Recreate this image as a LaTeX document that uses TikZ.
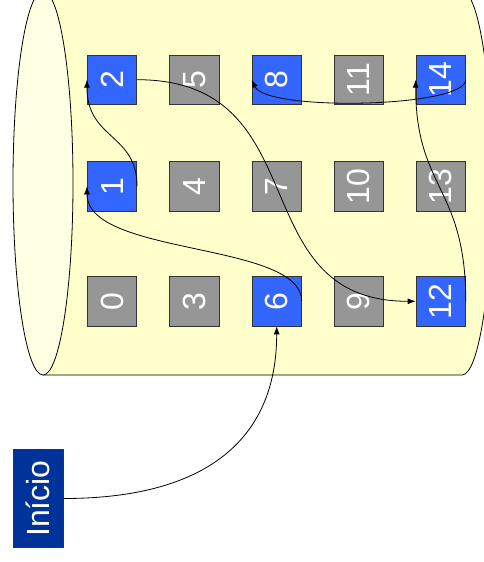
\documentclass[tikz,border=0pt]{standalone}
\usepackage{fontspec}
\setmainfont{Liberation Sans}
\usetikzlibrary{arrows.meta}
\definecolor{bodyfill}{HTML}{FFFFCC}
\definecolor{capfill}{HTML}{FFFFE3}
\definecolor{cellblue}{HTML}{3366FF}
\definecolor{cellgray}{HTML}{969696}
\definecolor{startblue}{HTML}{003399}
\definecolor{edgecol}{HTML}{333333}
\begin{document}
\begin{tikzpicture}[x=1pt,y=-1pt,
  cell/.style={draw=edgecol, line width=0.8pt, minimum size=49.3pt, inner sep=0pt, text=white, font=\fontsize{32}{32}\selectfont},
  bluecell/.style={cell, fill=cellblue},
  graycell/.style={cell, fill=cellgray},
  startbox/.style={draw=edgecol, line width=0.8pt, fill=startblue, minimum width=50pt, minimum height=98.4pt, inner sep=0pt, text=white, font=\fontsize{32}{32}\selectfont},
  link/.style={draw=black, line width=0.8pt, -{Latex[length=8pt,width=6pt]}},
  cyl/.style={draw=black, line width=0.8pt}]
\useasboundingbox (0,0) rectangle (484,562);
\clip (0,0) rectangle (484,562);
\fill[white] (0,0) rectangle (484,562);
% cylinder body
\filldraw[cyl, fill=bodyfill] (43,-9) -- (462,-9) arc[start angle=-90, end angle=90, x radius=30, y radius=192] -- (43,375) -- cycle;
% left cap
\filldraw[cyl, fill=capfill] (43,183) ellipse [x radius=30, y radius=192];
% cells
\node[graycell] (n0)  at (112,301.3)   {\rotatebox{90}{0}};
\node[bluecell] (n1)  at (112,186.4)   {\rotatebox{90}{1}};
\node[bluecell] (n2)  at (112,79.7)    {\rotatebox{90}{2}};
\node[graycell] (n3)  at (194.5,301.3) {\rotatebox{90}{3}};
\node[graycell] (n4)  at (194.5,186.4) {\rotatebox{90}{4}};
\node[graycell] (n5)  at (194.5,79.7)  {\rotatebox{90}{5}};
\node[bluecell] (n6)  at (276.7,301.3) {\rotatebox{90}{6}};
\node[graycell] (n7)  at (276.7,186.4) {\rotatebox{90}{7}};
\node[bluecell] (n8)  at (276.7,79.7)  {\rotatebox{90}{8}};
\node[graycell] (n9)  at (358.7,301.3) {\rotatebox{90}{9}};
\node[graycell] (n10) at (358.7,186.4) {\rotatebox{90}{10}};
\node[graycell] (n11) at (358.7,79.7)  {\rotatebox{90}{11}};
\node[bluecell] (n12) at (440.7,301.3) {\rotatebox{90}{12}};
\node[graycell] (n13) at (440.7,186.4) {\rotatebox{90}{13}};
\node[bluecell] (n14) at (440.7,79.7)  {\rotatebox{90}{14}};
\node[startbox] (start) at (38.3,498.5) {\rotatebox{90}{Início}};
% links
\draw[link] (start.east) .. controls +(140,0) and +(0,115) .. (n6.south);
\draw[link] (n6.east) .. controls +(0,-60) and +(0,70) .. (n1.west);
\draw[link] (n1.east) .. controls +(0,-53) and +(0,60) .. (n2.west);
\draw[link] (n2.east) .. controls +(183,0) and +(-176,0) .. (n12.west);
\draw[link] (n12.east) .. controls +(0,-115) and +(0,110) .. (n14.west);
\draw[link] (n14.east) .. controls +(0,28) and +(15,32) .. (n8.west);
\end{tikzpicture}
\end{document}
